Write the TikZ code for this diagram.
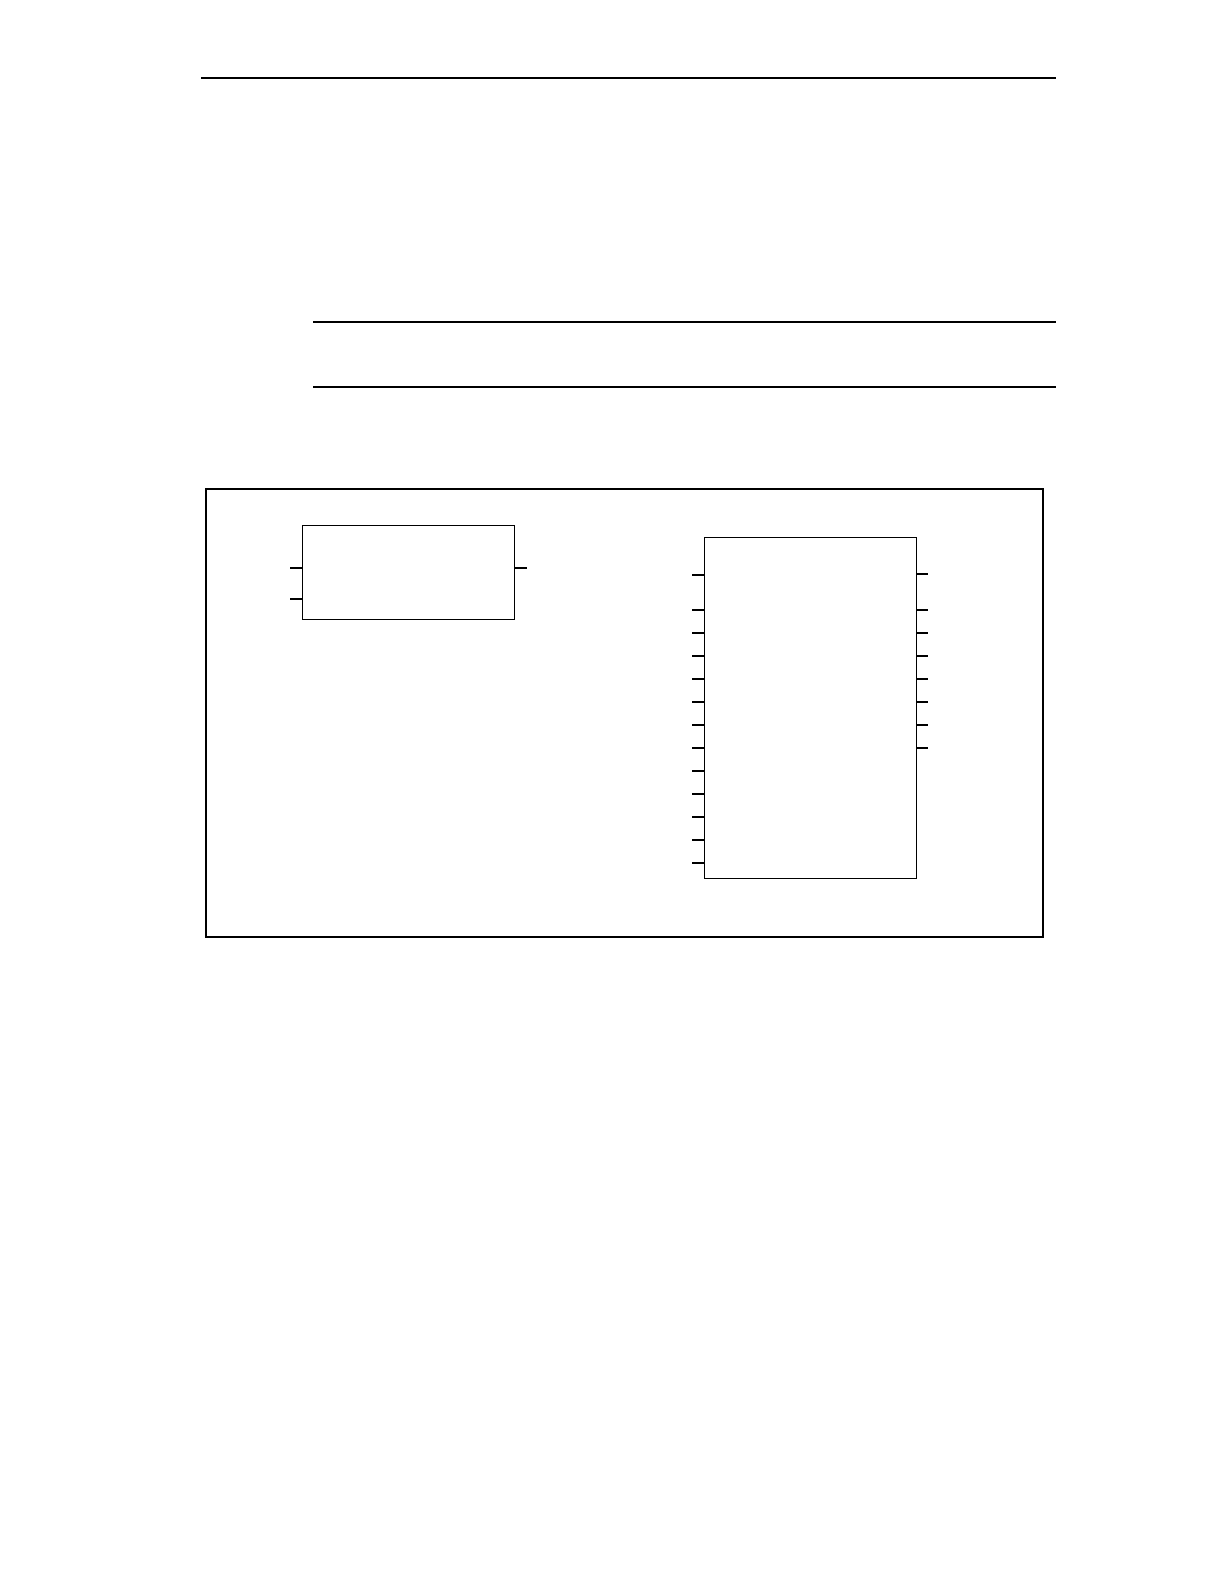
\documentclass[tikz,border=0pt]{standalone}
\usetikzlibrary{positioning}
\tikzset {
  % page rules above the figure
  rule/.style = {
    draw = black,
    line width = 0.6bp
  },
  % outer figure frame
  frame/.style = {
    draw = black,
    line width = 1.1bp
  },
  % function block
  block/.style = {
    draw = black,
    rectangle,
    line width = 0.6bp,
    inner sep = 0,
    anchor = north west
  },
  % connection pin of a block
  pin line/.style = {
    draw = black,
    line width = 0.6bp
  }
}

\begin{document}
\begin{tikzpicture}[x=0.5bp, y=-0.5bp]
    \useasboundingbox (0,0) rectangle (1224,1584);

    \draw[rule] (201,78) -- (1056,78);
    \draw[rule] (313,322) -- (1056,322);
    \draw[rule] (313,387) -- (1056,387);

    \draw[frame] (206,489) rectangle (1043,937);

    \node[block, minimum width = 106bp, minimum height = 47bp]
      (small) at (302,525) {};
    \node[block, minimum width = 105.8bp, minimum height = 170.5bp]
      (large) at (704,537) {};

    % pins of the small block
    \foreach \dy in {43, 74}
      \draw[pin line] (small.north west) ++(0,\dy) -- ++(-12,0);
    \draw[pin line] (small.north east) ++(0,43) -- ++(12,0);

    % pins of the large block
    \foreach \dy in {38, 73, 96, 119, 142, 165, 188, 211, 234, 257, 280, 303, 326}
      \draw[pin line] (large.north west) ++(0,\dy) -- ++(-12,0);
    \foreach \dy in {37, 73, 96, 119, 142, 165, 188, 211}
      \draw[pin line] (large.north east) ++(0,\dy) -- ++(11,0);
\end{tikzpicture}
\end{document}
